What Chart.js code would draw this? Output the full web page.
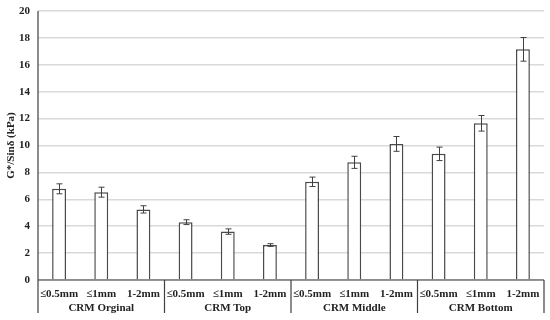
<!DOCTYPE html>
<html>
<head>
<meta charset="utf-8">
<script src="https://cdn.jsdelivr.net/npm/chart.js@4.4.0/dist/chart.umd.min.js"></script>
<style>
html,body{margin:0;padding:0;background:#fff;}
#wrap{width:550px;height:320px;position:relative;}
</style>
</head>
<body>
<div id="wrap"><canvas id="c"></canvas></div>
<script>
const subLabels = ["≤0.5mm","≤1mm","1-2mm","≤0.5mm","≤1mm","1-2mm","≤0.5mm","≤1mm","1-2mm","≤0.5mm","≤1mm","1-2mm"];
const groupLabels = ["CRM Orginal","CRM Top","CRM Middle","CRM Bottom"];
const values = [6.78, 6.53, 5.25, 4.3, 3.6, 2.6, 7.3, 8.75, 10.12, 9.38, 11.65, 17.15];
const errors = [0.37, 0.37, 0.27, 0.18, 0.2, 0.1, 0.35, 0.45, 0.55, 0.5, 0.58, 0.88];
const yTicks = [0, 2, 4, 6, 8, 10, 12, 14, 16, 18, 20];
const perGroup = 3;

const FONT = '"Liberation Serif", "Times New Roman", serif';

const extras = {
  id: 'extras',
  afterDatasetsDraw(chart) {
    const ctx = chart.ctx;
    const x = chart.scales.x, y = chart.scales.y;
    const meta = chart.getDatasetMeta(0);
    ctx.save();
    ctx.strokeStyle = '#404040';
    ctx.lineWidth = 1;
    meta.data.forEach((bar, i) => {
      const cx = Math.round(bar.x) + 0.5;
      const yt = y.getPixelForValue(values[i] + errors[i]);
      const yb = y.getPixelForValue(values[i] - errors[i]);
      ctx.beginPath();
      ctx.moveTo(cx, yt); ctx.lineTo(cx, yb);
      ctx.moveTo(cx - 3, yt); ctx.lineTo(cx + 3, yt);
      ctx.moveTo(cx - 3, yb); ctx.lineTo(cx + 3, yb);
      ctx.stroke();
    });
    const ca = chart.chartArea;
    const base = y.getPixelForValue(0);
    ctx.strokeStyle = '#404040';
    ctx.lineWidth = 1.2;
    ctx.beginPath();
    ctx.moveTo(ca.left, base); ctx.lineTo(ca.right, base);
    ctx.stroke();
    const n = subLabels.length;
    const step = (x.getPixelForValue(n - 1) - x.getPixelForValue(0)) / (n - 1);
    const bottom = base + 33;
    ctx.beginPath();
    ctx.moveTo(ca.left, ca.top); ctx.lineTo(ca.left, bottom);
    for (let g = 1; g <= groupLabels.length; g++) {
      const px = x.getPixelForValue(g * perGroup - 1) + step / 2;
      ctx.moveTo(px, base); ctx.lineTo(px, bottom);
    }
    ctx.stroke();
    ctx.fillStyle = '#222';
    ctx.font = 'bold 11px ' + FONT;
    ctx.textAlign = 'center';
    ctx.textBaseline = 'middle';
    groupLabels.forEach((lab, g) => {
      const px = (x.getPixelForValue(g * perGroup) + x.getPixelForValue(g * perGroup + perGroup - 1)) / 2;
      ctx.fillText(lab, px, base + 28);
    });
    ctx.restore();
  }
};

new Chart(document.getElementById('c'), {
  type: 'bar',
  data: {
    labels: subLabels,
    datasets: [{
      data: values,
      backgroundColor: '#ffffff',
      borderColor: '#4a4a4a',
      borderWidth: 1.5,
      barPercentage: 0.33,
      categoryPercentage: 1.0
    }]
  },
  options: {
    responsive: true,
    maintainAspectRatio: false,
    animation: false,
    devicePixelRatio: 1,
    layout: { padding: { top: 11, right: 6, left: 0, bottom: 0 } },
    plugins: { legend: { display: false }, tooltip: { enabled: false } },
    scales: {
      x: {
        grid: { display: false, drawTicks: false },
        border: { display: false },
        ticks: {
          font: { family: FONT, size: 11, weight: 'bold' },
          color: '#222',
          padding: 8,
          maxRotation: 0,
          autoSkip: false
        },
        afterFit(s) { s.height = 40; s.paddingLeft = 0; s.paddingRight = 0; }
      },
      y: {
        min: 0, max: 20,
        afterBuildTicks(s) { s.ticks = yTicks.map(v => ({ value: v })); },
        grid: { color: '#d9d9d9', lineWidth: 1.5, drawTicks: false },
        border: { display: false },
        ticks: {
          font: { family: FONT, size: 11, weight: 'bold' },
          color: '#222',
          padding: 8
        },
        title: {
          display: true,
          text: 'G*/Sinδ (kPa)',
          font: { family: FONT, size: 11, weight: 'bold' },
          color: '#222',
          padding: { top: 5, bottom: 0 }
        },
        afterFit(s) { s.width = 38; s.paddingTop = 0; s.paddingBottom = 0; }
      }
    }
  },
  plugins: [extras]
});
</script>
</body>
</html>
